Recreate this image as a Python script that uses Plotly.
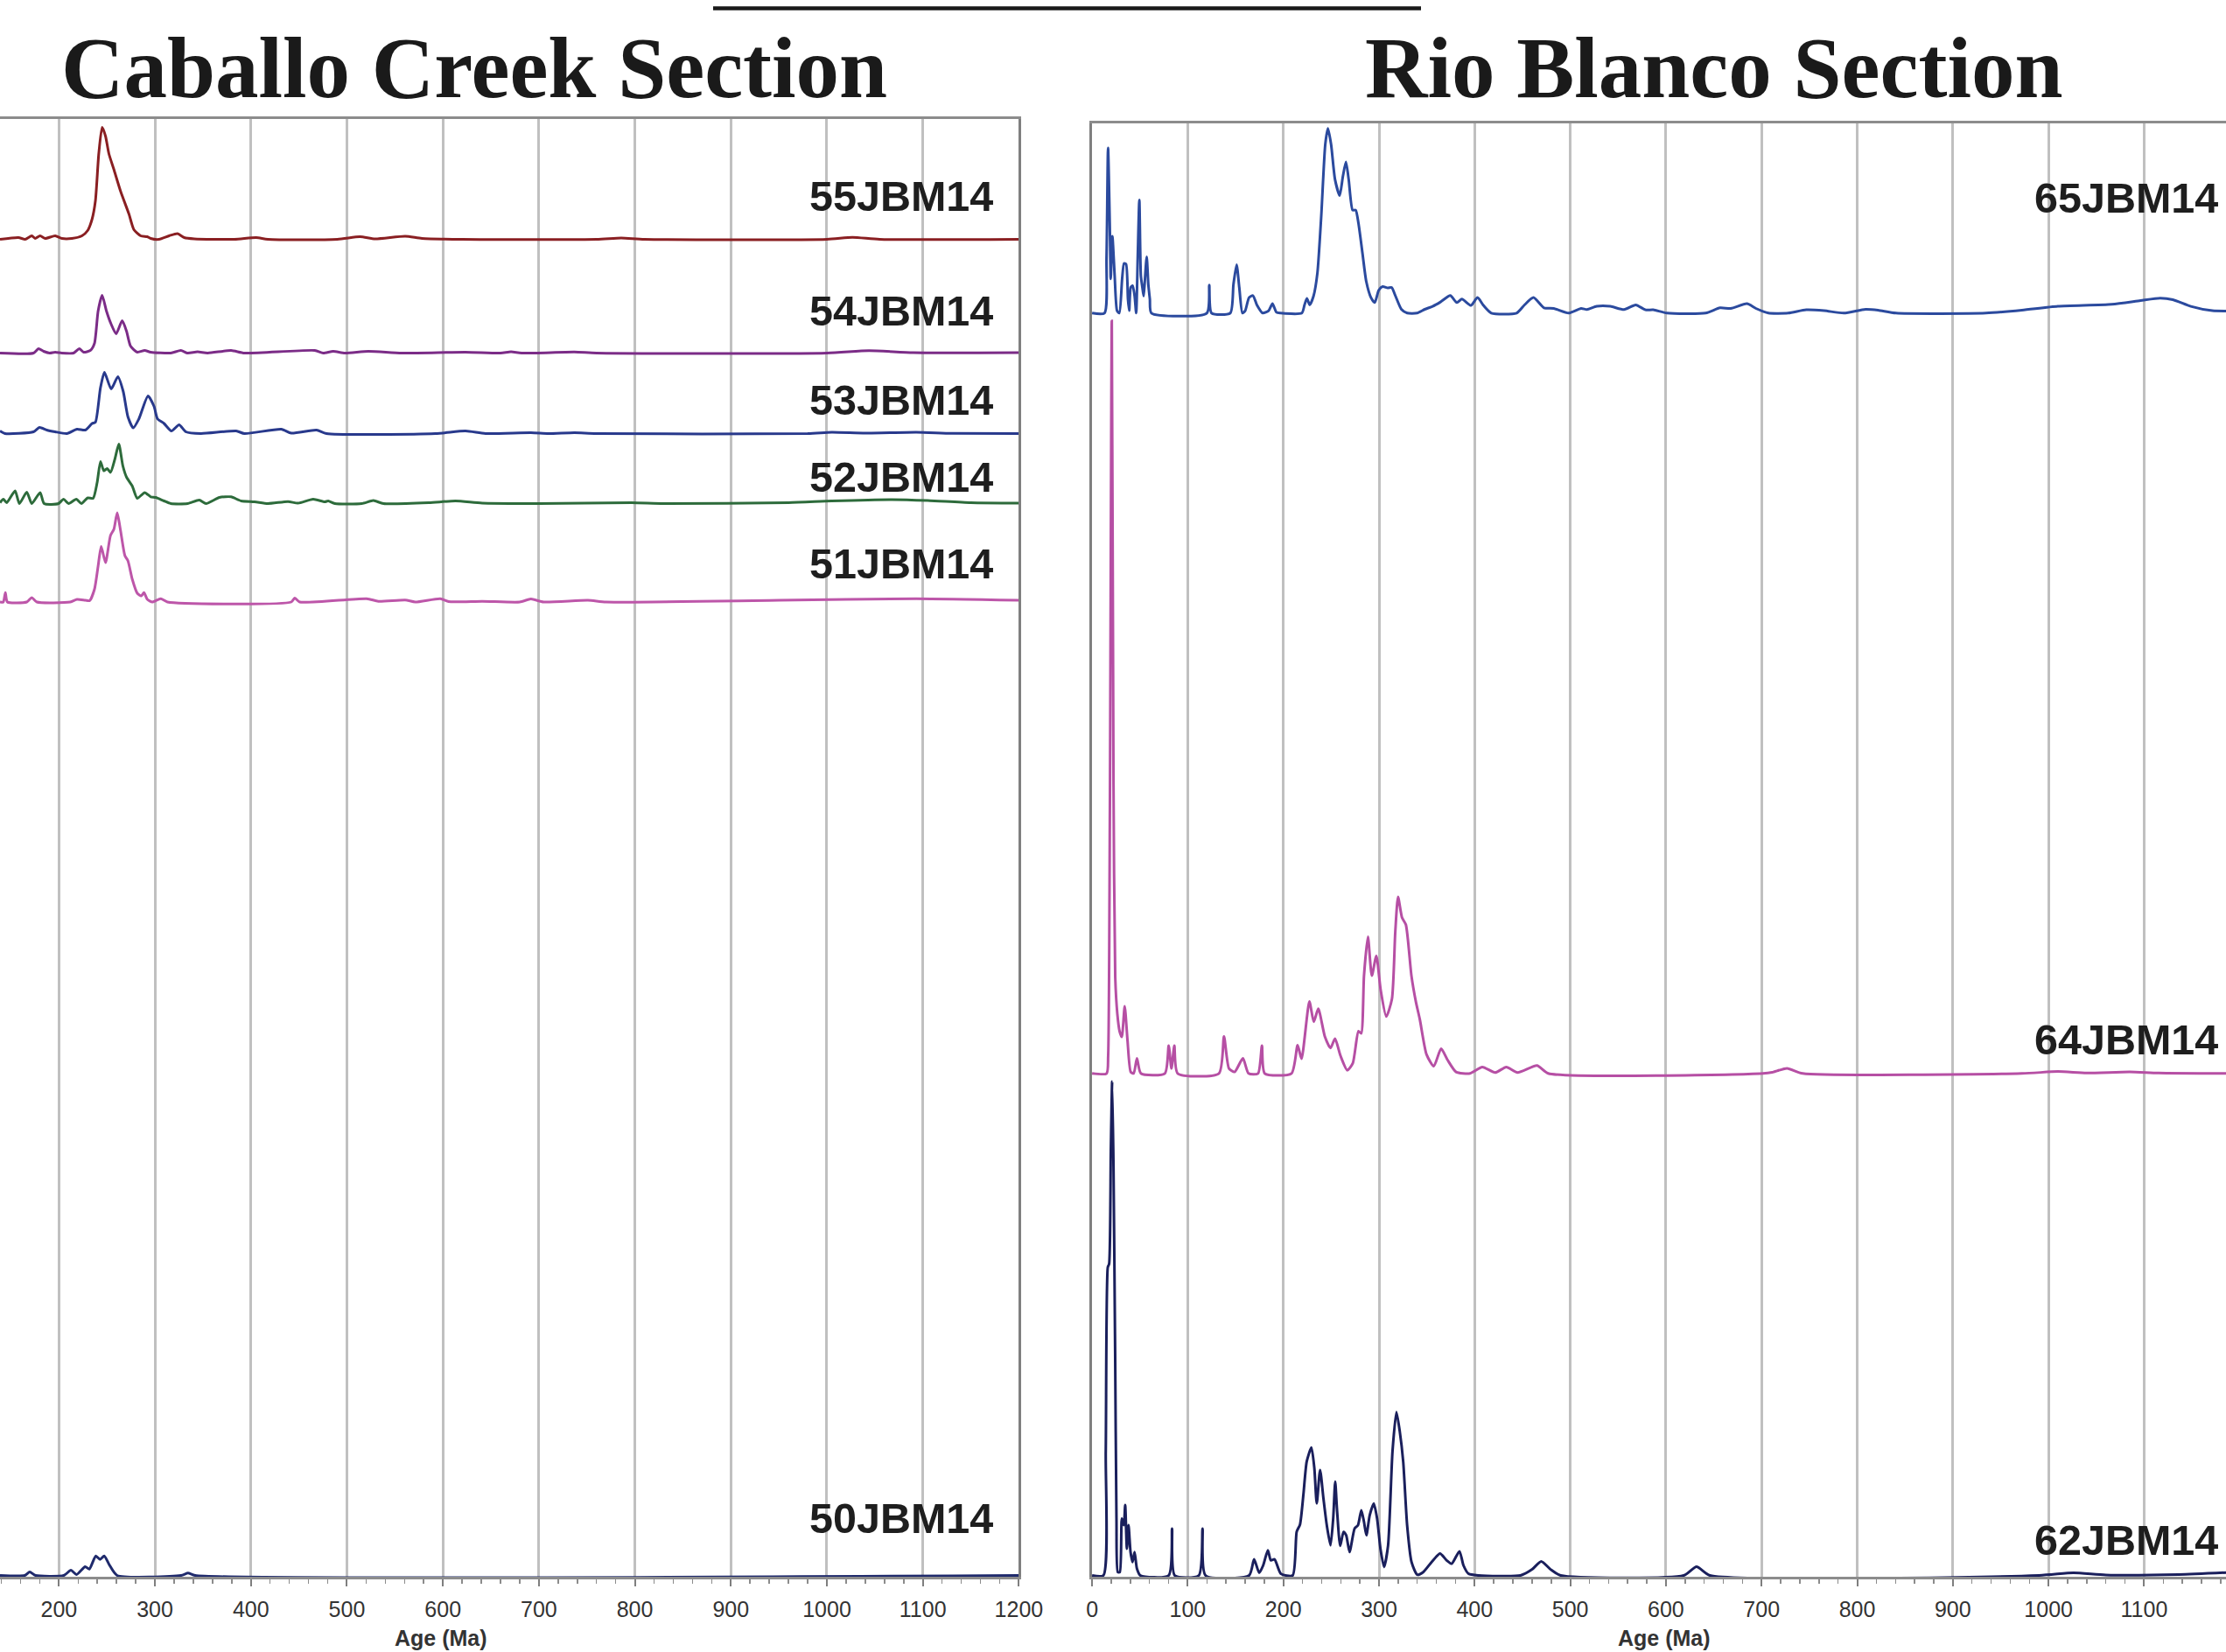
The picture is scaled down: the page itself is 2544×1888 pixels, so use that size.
import plotly.graph_objects as go

W, H = 2544, 1888

# ---------------- data: (age in Ma, relative probability) ----------------
PDP_55JBM14 = [(138.6, 0), (157.8, 2), (164.8, 0), (171.7, 4), (175.2, 1), (180.4, 4), (185.7, 1),
               (196.1, 4), (203.1, 1), (213.5, 1), (224.0, 4), (229.9, 10), (234.5, 23), (238.0, 44),
               (241.5, 98), (245.0, 128), (248.5, 118), (252.0, 98), (257.2, 80), (264.2, 55),
               (272.9, 29), (278.1, 11), (285.1, 4), (292.1, 3), (295.6, 1), (304.3, 0), (314.8, 4),
               (323.5, 6.5), (330.5, 2), (341.0, 0.5), (382.8, 0), (405.5, 2), (417.7, 0), (490, 0),
               (513.6, 3), (529.3, 0.5), (560.7, 3.5), (578.2, 1), (620, 0), (760, 0), (785.8, 1.5),
               (810, 0), (1000, 0), (1026.6, 2.3), (1055, 0), (1200, 0)]

PDP_54JBM14 = [(138.6, 0), (173.5, 0), (178.7, 5), (184.0, 2), (190.2, 0), (196.1, 1), (203.0, 0),
               (215.3, 0), (221.2, 5), (225.8, 1), (232.7, 3), (237.0, 11), (240.8, 48), (245.0, 66),
               (249.5, 48), (254.4, 33), (259.6, 22), (265.9, 37), (270.4, 25), (274.6, 8), (281.6, 1),
               (289.3, 3), (295.6, 1), (316.5, 0), (327.0, 3), (334.0, 0), (344.4, 1.5), (354.9, 0),
               (379.3, 3), (393.3, 0), (466.5, 3), (475.2, 0), (485.7, 2), (497.9, 0), (522.3, 2),
               (557.2, 0), (623.5, 1), (660, 0), (671, 1.5), (682, 0), (737, 1.2), (760, 0), (1000, 0),
               (1043.8, 2.7), (1090, 0.5), (1200, 0.5)]

PDP_53JBM14 = [(138.6, 3), (143.8, 0), (173.5, 2), (179.7, 7), (187.4, 4), (196.1, 2), (208.3, 0),
               (218.8, 5), (227.5, 4), (234.5, 11.5), (238.0, 13), (243.2, 52), (247.4, 70), (254.4, 51),
               (261.4, 65), (267.0, 48), (271.9, 19), (277.4, 6.5), (283.4, 17), (292.8, 43), (299.1, 31),
               (302.6, 17), (309.5, 11.5), (317.2, 3), (325.2, 10), (332.2, 2), (347.9, 0), (384.6, 3),
               (393.3, 0), (431.6, 5), (442.1, 0.5), (468.3, 4), (478.7, 0), (592.1, 0), (623.5, 3),
               (644.4, 0), (691.7, 1), (710, 0), (737, 1), (760, 0), (980, 0), (1005, 1.5), (1040, 0.5),
               (1093, 1.5), (1130, 0.3), (1200, 0)]

PDP_52JBM14 = [(138.6, 1), (142.1, 5), (145.6, 1), (154.3, 14.5), (158.8, 0), (166.5, 13), (171.7, 0),
               (180.4, 12.6), (184.6, 0), (199.6, 0), (204.8, 5), (210.1, 0), (218.1, 5), (223.4, 0),
               (230.0, 6.5), (235.6, 6), (239.8, 24), (243.3, 48), (246.7, 37.5), (250.2, 40),
               (253.7, 35.6), (258.3, 51), (262.4, 68), (266.6, 43), (270.5, 30), (276.4, 20), (281.6, 6),
               (289.3, 12.6), (295.6, 7.7), (300.8, 7), (309.5, 3), (316.5, 0), (334.0, 0), (346.2, 4),
               (353.2, 0), (367.2, 7), (379.3, 7.7), (389.8, 3), (403.8, 2), (417.7, 0), (438.7, 2.3),
               (449.1, 0.4), (464.8, 5), (477.0, 2), (480.5, 3), (487.5, 0), (515.4, 0), (527.6, 3.4),
               (538.1, 0), (585.2, 1), (613.1, 3), (641.0, 0.4), (700, 0), (796.4, 1), (830, 0),
               (960, 1), (1005, 3), (1068, 4.6), (1105, 3.5), (1150, 1), (1200, 0.5)]

PDP_51JBM14 = [(138.6, 0), (142.0, 0), (144.2, 10.7), (146.3, 0), (166.5, 0), (171.7, 5), (177.0, 0),
               (211.8, 0), (218.8, 3), (227.5, 2), (232.0, 1.5), (237.0, 14.5), (240.8, 41), (244.0, 63.5),
               (248.5, 45), (253.7, 76), (257.2, 83), (260.7, 102), (264.2, 81.5), (268.7, 53),
               (271.9, 47), (276.4, 26), (281.6, 10), (285.8, 7), (288.6, 10.7), (292.1, 3), (297.3, 0),
               (306.0, 3.8), (313.0, 0), (442.0, 0), (445.6, 4.6), (450.8, 0), (520.6, 3.8), (532.8, 0.8),
               (560.7, 2.3), (571.2, 0), (597.3, 3.8), (606.0, 0.4), (641.0, 0.8), (680, 0), (691.7, 3.4),
               (705, 0), (751, 2), (770, 0), (950, 2), (1093, 3.8), (1200, 2)]

PDP_50JBM14 = [(138.6, 0), (164.4, 0), (169.6, 4), (175.6, 0), (205.1, 0), (212.5, 6), (218.4, 1),
               (227.3, 10), (231.7, 7.3), (238.4, 22.3), (242.8, 18.3), (247.2, 22.3), (252.4, 12.3),
               (260.6, 0), (327.2, 0), (334.5, 2.7), (341.9, 0), (1200, 0)]

PDP_65JBM14 = [(0, 0), (13.0, 0), (15.1, 62.7), (16.7, 188.7), (18.7, 89), (19.5, 39), (21.2, 87.7),
               (23.6, 42.7), (26.1, 2.7), (28.5, 0), (31.4, 39), (33.4, 56.7), (35.5, 56), (37.5, 16),
               (38.8, 2.7), (40.4, 29.3), (42.4, 31.3), (44.5, 19.3), (46.1, 0), (47.7, 62.7), (49.4, 129.3),
               (51.0, 42.7), (52.6, 29.3), (53.9, 19.3), (55.1, 36), (57.1, 64.3), (58.8, 32.7), (60.4, 16),
               (62.0, 0), (120.0, 0), (122.5, 32), (124.9, 0), (144.5, 0), (147.8, 32.7), (151.1, 55.3),
               (153.9, 29.3), (157.2, 0), (160.1, 2.7), (164.1, 17.7), (168.2, 20), (172.3, 9.3),
               (178.4, 0), (184.6, 2.7), (188.6, 10.7), (192.7, 1), (196.8, 0), (219.3, 0), (222.1, 9.3),
               (224.6, 16.7), (227.5, 9.3), (231.5, 19.3), (235.6, 46), (239.7, 112.7), (243.8, 192.7),
               (246.6, 211), (249.9, 192.7), (254.0, 152.7), (258.9, 134.3), (262.2, 156), (265.4, 172.7),
               (268.3, 152.7), (272.4, 117.7), (275.6, 117.7), (278.5, 102.7), (282.6, 69.3), (286.7, 36),
               (291.6, 17.7), (295.6, 12), (299.7, 26), (303.8, 30.3), (309.1, 28.7), (313.2, 29.3),
               (317.3, 19.3), (323.4, 4.3), (329.5, 0), (339.8, 0), (347.9, 4.3), (356.1, 7.7),
               (364.3, 12.7), (374.5, 20), (381.4, 12), (386.7, 16), (396.1, 8.7), (403.0, 17.7),
               (409.2, 8.7), (417.4, 0), (443.9, 0), (452.1, 9.3), (461.5, 17.7), (472.5, 6), (482.7, 5.3),
               (498.2, 0), (511.3, 5.3), (517.4, 4), (527.6, 7.7), (541.9, 7.7), (556.2, 4), (568.4, 9.3),
               (578.6, 3.7), (586.8, 3.7), (601.1, 0), (641.5, 0), (656.5, 6), (667.8, 5.3), (684.7, 10.7),
               (694.1, 5.3), (707.2, 0), (727.9, 0), (746.7, 3.7), (765.5, 2.7), (786.1, 0), (808.7, 4.3),
               (821.8, 3.3), (840.6, 0), (934.6, 0), (972.2, 3.3), (1009.8, 7.7), (1066.1, 10),
               (1096.2, 14.3), (1116.8, 17), (1130.0, 15.3), (1148.8, 7.7), (1171.3, 2.7), (1185.6, 2.3)]

PDP_64JBM14 = [(0, 0), (15.2, 0), (16.8, 20), (18.6, 300), (20.6, 860), (22.4, 330), (24.2, 110),
               (26.4, 68), (28.8, 48), (31.1, 41.7), (34.1, 76.7), (37.0, 38.3), (40.4, 1.7), (43.5, 0),
               (46.9, 17.3), (51.0, 0), (76.1, 0), (80.1, 31.7), (83.0, 5.7), (86.0, 31.7), (89.5, 0),
               (132.6, 0), (137.9, 42.3), (143.1, 5.7), (149.0, 1.7), (157.7, 17.3), (163.6, 0),
               (173.5, 0), (177.6, 31.7), (180.5, 0), (208.5, 0), (214.9, 32.3), (219.0, 16.7),
               (227.2, 82.3), (231.8, 59), (236.5, 74), (243.5, 41.7), (249.3, 29), (254.0, 39.7),
               (259.8, 20), (266.8, 3.7), (272.6, 11.7), (278.5, 48.3), (281.4, 45.7), (284.3, 111.7),
               (288.4, 156.3), (292.5, 111.7), (297.2, 134.3), (301.8, 95), (307.6, 65), (313.5, 85),
               (317.0, 161.7), (319.9, 201.7), (324.0, 178.3), (328.1, 170), (333.9, 111.7), (338.6, 81.7),
               (342.7, 61.7), (349.7, 21.7), (357.3, 8.3), (364.9, 28.3), (371.9, 15), (380.6, 1.7),
               (395.2, 0), (408.0, 7.3), (421.5, 1), (433.1, 7.3), (444.8, 1), (465.2, 9), (476.9, 0),
               (701.5, 0), (711.1, 1.3), (726.6, 5.8), (743.0, 0), (972.2, 0), (1009.8, 2.2),
               (1039.8, 0.5), (1084.9, 1.8), (1115.0, 0.5), (1185.6, 0)]

PDP_62JBM14 = [(0, 0), (11.8, 0), (14.3, 141.6), (16.4, 352), (17.8, 356), (19.6, 486), (21.0, 564.5),
               (22.4, 467), (24.1, 256.4), (25.5, 65), (26.9, 3.8), (29.0, 3.8), (31.1, 65), (33.2, 57.4),
               (34.6, 80.4), (36.4, 30.6), (38.1, 57.4), (40.2, 26.8), (42.3, 15.3), (44.4, 26.8),
               (46.9, 7.7), (50.4, 0), (80.1, 0), (83.6, 53.6), (86.4, 0), (111.6, 0), (115.5, 53.6),
               (118.6, 0), (164.2, 0), (169.4, 18.4), (174.7, 3), (178.9, 11.5), (183.8, 28.7),
               (186.9, 17.2), (190.8, 18.4), (197.4, 1.9), (209.7, 0), (213.9, 49.8), (217.4, 58.2),
               (220.9, 91.8), (224.4, 130.1), (229.3, 146.2), (232.4, 122.5), (234.9, 82.3), (238.4, 120.6),
               (241.9, 88), (245.4, 57.4), (249.3, 34.4), (252.1, 65.1), (254.2, 107.2), (256.0, 76.5),
               (259.4, 33.7), (262.9, 49.8), (265.7, 45.9), (269.2, 26.8), (274.5, 53.6), (278.0, 57.4),
               (281.5, 74.6), (284.3, 61.2), (286.8, 45.9), (290.3, 68.9), (294.5, 82.3), (298.0, 65.1),
               (301.5, 30.6), (305.3, 9.6), (309.5, 34.4), (314.1, 141.6), (318.2, 186.8), (321.7, 164.6),
               (325.3, 130.1), (329.4, 57.4), (334.0, 15.3), (340.0, 0.8), (346.2, 3.8), (355.0, 15.3),
               (363.8, 24.9), (370.8, 17.2), (376.0, 13.4), (384.1, 27.6), (388.3, 11.5), (393.6, 1.9),
               (404.1, 0), (447.9, 0), (460.1, 6.9), (469.6, 16.1), (479.4, 6.9), (489.9, 0), (618.7, 0),
               (632.0, 10), (646.0, 0), (990, 0), (1026, 3), (1060, 0.5), (1136, 1), (1185.6, 3.3)]

CABALLO_SAMPLES = ["55JBM14", "54JBM14", "53JBM14", "52JBM14", "51JBM14", "50JBM14"]
RIO_SAMPLES = ["65JBM14", "64JBM14", "62JBM14"]
DATA = {
    "55JBM14": PDP_55JBM14, "54JBM14": PDP_54JBM14, "53JBM14": PDP_53JBM14,
    "52JBM14": PDP_52JBM14, "51JBM14": PDP_51JBM14, "50JBM14": PDP_50JBM14,
    "65JBM14": PDP_65JBM14, "64JBM14": PDP_64JBM14, "62JBM14": PDP_62JBM14,
}
AGE_TICK_VALUES = list(range(0, 1300, 100))
AGE_TICK_TEXT = [str(v) for v in AGE_TICK_VALUES]

# ---------------- styling / layout (stack offsets, colours, label positions) ----------------
OFFSET = {"55JBM14": 1527, "54JBM14": 1397, "53JBM14": 1305, "52JBM14": 1225, "51JBM14": 1112.5,
          "50JBM14": 0, "65JBM14": 1442.7, "64JBM14": 573.7, "62JBM14": 0}
COLOR = {"55JBM14": "#8a1f22", "54JBM14": "#7b2c87", "53JBM14": "#28398c", "52JBM14": "#2d6b3b",
         "51JBM14": "#bd56a9", "50JBM14": "#1f2a6c", "65JBM14": "#2b4a9e", "64JBM14": "#b64fa4",
         "62JBM14": "#1a1f5c"}
LABEL_Y = {"55JBM14": 223.7, "54JBM14": 355.1, "53JBM14": 456.8, "52JBM14": 544.7, "51JBM14": 644.3,
           "50JBM14": 1735, "65JBM14": 226.3, "64JBM14": 1188.2, "62JBM14": 1759.6}


def px(x):
    return x / W


def py(y):
    return 1 - y / H


fig = go.Figure()

for name in CABALLO_SAMPLES:
    ages = [p[0] for p in DATA[name]]
    vals = [OFFSET[name] + p[1] for p in DATA[name]]
    fig.add_trace(go.Scatter(x=ages, y=vals, mode="lines", xaxis="x", yaxis="y",
                             line=dict(color=COLOR[name], width=3, shape="spline", smoothing=0.6),
                             hoverinfo="skip", showlegend=False))
for name in RIO_SAMPLES:
    ages = [p[0] for p in DATA[name]]
    vals = [OFFSET[name] + p[1] for p in DATA[name]]
    fig.add_trace(go.Scatter(x=ages, y=vals, mode="lines", xaxis="x2", yaxis="y2",
                             line=dict(color=COLOR[name], width=3, shape="spline", smoothing=0.6),
                             hoverinfo="skip", showlegend=False))

tickfont = dict(family="Liberation Sans", size=25, color="#333333")
xcommon = dict(
    tickmode="array", tickvals=AGE_TICK_VALUES, ticktext=AGE_TICK_TEXT,
    showgrid=True, gridcolor="#c0c0c0", gridwidth=3,
    showline=True, linecolor="#8c8c8c", linewidth=3, mirror=True,
    ticks="outside", ticklen=8, tickwidth=2, tickcolor="#7f7f7f",
    minor=dict(dtick=20, ticks="outside", ticklen=5, tickwidth=1.5, tickcolor="#8c8c8c", showgrid=False),
    tickfont=tickfont, ticklabelstandoff=5, zeroline=False, layer="below traces",
    automargin=False, fixedrange=True,
)
ycommon = dict(showticklabels=False, showgrid=False, zeroline=False, ticks="",
               showline=True, linecolor="#7f7f7f", linewidth=3, automargin=False, fixedrange=True)

y_bottom = py(1802)
fig.update_layout(
    width=W, height=H,
    margin=dict(l=0, r=0, t=0, b=0, pad=0),
    paper_bgcolor="white", plot_bgcolor="white",
    showlegend=False,
    xaxis=dict(domain=[0, px(1164.4)], range=[138.6, 1200], anchor="y", **xcommon),
    yaxis=dict(domain=[y_bottom, py(136)], range=[-1.5, 1664.5], anchor="x", side="right", **ycommon),
    xaxis2=dict(domain=[px(1248.1), 1], range=[0, 1185.6], anchor="y2", **xcommon),
    yaxis2=dict(domain=[y_bottom, py(141)], range=[-1.5, 1659.5], anchor="x2", side="left", **ycommon),
)

annotations = []
# panel titles
annotations.append(dict(text="<b>Caballo Creek Section</b>", x=px(541.5), y=py(77), xref="paper", yref="paper",
                        xanchor="center", yanchor="middle", showarrow=False,
                        font=dict(family="Liberation Serif", size=99, color="#1a1a1a")))
annotations.append(dict(text="<b>Rio Blanco Section</b>", x=px(1958.5), y=py(77), xref="paper", yref="paper",
                        xanchor="center", yanchor="middle", showarrow=False,
                        font=dict(family="Liberation Serif", size=99, color="#1a1a1a")))
# sample labels
for name in CABALLO_SAMPLES:
    annotations.append(dict(text="<b>%s</b>" % name, x=px(1136.5), y=py(LABEL_Y[name]), xref="paper", yref="paper",
                            xanchor="right", yanchor="middle", showarrow=False,
                            font=dict(family="Liberation Sans", size=48.5, color="#1e1e1e")))
for name in RIO_SAMPLES:
    annotations.append(dict(text="<b>%s</b>" % name, x=px(2537), y=py(LABEL_Y[name]), xref="paper", yref="paper",
                            xanchor="right", yanchor="middle", showarrow=False,
                            font=dict(family="Liberation Sans", size=48.5, color="#1e1e1e")))
# axis titles (kept fully inside the page)
for cx in (504, 1902):
    annotations.append(dict(text="<b>Age (Ma)</b>", x=px(cx), y=py(1888), xref="paper", yref="paper",
                            xanchor="center", yanchor="bottom", showarrow=False,
                            font=dict(family="Liberation Sans", size=25, color="#333333")))
fig.update_layout(annotations=annotations)

# underline of the cropped header at the very top
fig.add_shape(type="line", xref="paper", yref="paper", x0=px(815), x1=px(1624), y0=py(9.5), y1=py(9.5),
              line=dict(color="#1a1a1a", width=4.5))

fig.write_html("out.html", config={"displayModeBar": False, "staticPlot": True},
               post_script="document.body.style.margin='0px';document.body.style.padding='0px';")
